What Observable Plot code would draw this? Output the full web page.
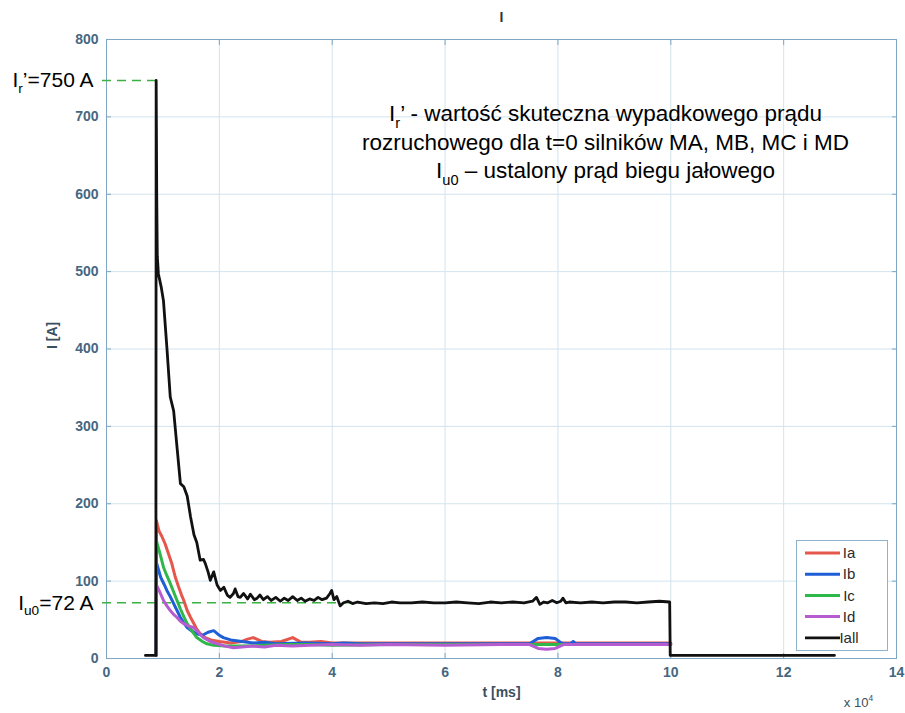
<!DOCTYPE html>
<html>
<head>
<meta charset="utf-8">
<script src="https://cdn.jsdelivr.net/npm/d3@7"></script>
<script src="https://cdn.jsdelivr.net/npm/@observablehq/plot@0.6"></script>
<style>
  body { margin: 0; background: #fff; }
</style>
</head>
<body>
<div id="chart"></div>
<script>
// ---- data ----
const seriesNames = ["Ia", "Ib", "Ic", "Id", "Iall"];
const seriesColors = ["#e5574b", "#1f5ed6", "#2fb84a", "#b65bd0", "#111111"];
const seriesWidths = [3, 3, 3, 3, 2.8];
const xTicks = [0, 2, 4, 6, 8, 10, 12, 14];
const yTicks = [0, 100, 200, 300, 400, 500, 600, 700, 800];

const iaPoints = [[0.88,4],[0.885,178],[0.93,165],[0.98,158],[1.04,148],[1.10,135],[1.16,122],[1.22,105],[1.28,92],[1.33,82],[1.37,75],[1.43,62],[1.49,53],[1.55,45],[1.60,38],[1.66,32],[1.75,27],[1.85,24],[2.0,22],[2.2,20],[2.4,22],[2.5,25],[2.6,27],[2.75,22],[2.9,21],[3.1,22],[3.3,27],[3.45,21],[3.6,21],[3.8,22],[4.0,20],[4.5,20],[5,20],[6,20],[7,20],[8,20],[9,20],[10,20]];
const ibPoints = [[0.88,4],[0.885,124],[0.96,105],[1.02,96],[1.07,88],[1.13,80],[1.19,71],[1.25,62],[1.31,53],[1.37,46],[1.43,40],[1.5,36],[1.6,32],[1.7,30],[1.8,34],[1.9,36],[2.0,30],[2.07,27],[2.2,24],[2.4,22],[2.6,20],[2.8,21],[3.0,19],[3.5,20],[4.0,19],[4.2,20],[4.5,19],[5,19],[6,19],[7,19],[7.5,19],[7.56,22],[7.65,26],[7.8,27],[7.95,26],[8.04,21],[8.1,19],[8.22,19],[8.27,22],[8.32,19],[9,19],[10,19]];
const icPoints = [[0.88,4],[0.885,152],[0.95,135],[1.01,118],[1.07,107],[1.13,97],[1.19,86],[1.25,75],[1.31,64],[1.37,54],[1.43,45],[1.5,37],[1.6,27],[1.7,22],[1.78,19],[1.9,17],[2.1,16],[2.4,16],[2.8,17],[3.2,18],[3.6,18],[4,17],[5,18],[6,18],[7,18],[8,18],[9,18],[10,18]];
const idPoints = [[0.88,4],[0.885,95],[0.95,85],[1.01,75],[1.07,68],[1.13,62],[1.19,57],[1.25,53],[1.31,48],[1.37,45],[1.45,42],[1.54,40],[1.6,36],[1.66,31],[1.72,27],[1.84,22],[1.96,19],[2.1,16],[2.25,14],[2.4,15],[2.6,16],[2.8,15],[3.0,17],[3.3,16],[3.6,17],[4,18],[4.5,17],[5,18],[6,17],[7,18],[7.5,18],[7.56,16],[7.65,13],[7.8,12],[7.95,13],[8.04,16],[8.1,18],[9,18],[10,18]];
const iallPoints = [[0.69,4],[0.875,4],[0.88,747],[0.89,600],[0.90,520],[0.92,497],[0.97,480],[1.01,462],[1.07,402],[1.13,338],[1.19,320],[1.25,273],[1.31,226],[1.37,222],[1.43,210],[1.49,183],[1.55,160],[1.60,150],[1.66,127],[1.72,128],[1.75,123],[1.80,112],[1.84,101],[1.90,112],[1.96,95],[2.02,88],[2.08,92],[2.14,82],[2.19,79],[2.25,84],[2.28,90],[2.33,80],[2.37,79],[2.43,84],[2.50,77],[2.55,83],[2.62,76],[2.67,78],[2.72,82],[2.78,76],[2.85,80],[2.92,75],[3.00,79],[3.08,74],[3.15,78],[3.22,75],[3.30,80],[3.38,75],[3.45,78],[3.52,74],[3.60,77],[3.68,75],[3.75,79],[3.82,76],[3.90,78],[3.96,84],[3.99,88],[4.03,76],[4.08,80],[4.14,68],[4.20,72],[4.28,74],[4.36,71],[4.45,73],[4.60,71],[4.75,72],[4.90,71],[5.05,73],[5.20,72],[5.40,72],[5.60,73],[5.80,72],[6.00,72],[6.20,73],[6.40,72],[6.60,71],[6.80,73],[7.00,72],[7.20,73],[7.40,72],[7.55,74],[7.62,79],[7.68,70],[7.75,73],[7.82,72],[7.90,75],[7.98,72],[8.05,74],[8.09,78],[8.14,72],[8.20,73],[8.40,72],[8.60,73],[8.80,72],[9.00,73],[9.20,73],[9.40,72],[9.60,73],[9.80,74],[9.98,73],[9.99,4],[12.90,4]];

const peakLabel = "I_{r}’=750 A";
const idleValue = 72;
const idleLabel = "I_{u0}=72 A";
const idleLineEnd = 5.0;
const noteLines = [
  "I_{r}’ - wartość skuteczna wypadkowego prądu",
  "rozruchowego dla t=0 silników MA, MB, MC i MD",
  "I_{u0} – ustalony prąd biegu jałowego"
];
const titleText = "I";
const xLabel = "t [ms]";
const xExponent = "x 10^{4}";
const yLabel = "I [A]";

// ---- build table ----
const allSeries = [iaPoints, ibPoints, icPoints, idPoints, iallPoints];
const seriesRows = allSeries.map((pts, k) => pts.map(([t, i]) => ({series: seriesNames[k], t, i})));
const peakPoint = iallPoints.reduce((a, b) => (b[1] > a[1] ? b : a));

const frameColor = "#7fa7c3";
const gridColor = "#d3e3ee";
const tickTextColor = "#46677f";
const dashGreen = "#3cb043";
const fontFamily = "'Liberation Sans', Arial, sans-serif";

const marks = [
  Plot.gridX(xTicks, {stroke: gridColor, strokeOpacity: 1}),
  Plot.gridY(yTicks, {stroke: gridColor, strokeOpacity: 1}),
  Plot.frame({stroke: frameColor}),
  Plot.axisX(xTicks, {tickSize: -5, tickPadding: 14, stroke: frameColor, fill: tickTextColor, fontSize: 14, fontWeight: "bold", label: null}),
  Plot.axisX(xTicks, {anchor: "top", tickSize: -5, tickFormat: () => "", stroke: frameColor, label: null}),
  Plot.axisY(yTicks, {tickSize: -5, tickPadding: 13, stroke: frameColor, fill: tickTextColor, fontSize: 14, fontWeight: "bold", label: null}),
  Plot.axisY(yTicks, {anchor: "right", tickSize: -5, tickFormat: () => "", stroke: frameColor, label: null}),
  Plot.ruleY([peakPoint[1]], {x1: 0, x2: peakPoint[0], insetLeft: -4, stroke: dashGreen, strokeWidth: 1.5, strokeDasharray: "9,6"}),
  Plot.ruleY([idleValue], {x1: 0, x2: idleLineEnd, insetLeft: -4, stroke: dashGreen, strokeWidth: 1.5, strokeDasharray: "9,6"}),
  ...seriesRows.map((r, k) => Plot.line(r, {x: "t", y: "i", stroke: "series", strokeWidth: seriesWidths[k]})),
  Plot.text([peakLabel], {frameAnchor: "left", y: peakPoint[1], dx: -13, textAnchor: "end", fontSize: 21, fill: "#000"}),
  Plot.text([idleLabel], {frameAnchor: "left", y: idleValue, dx: -13, textAnchor: "end", fontSize: 21, fill: "#000"}),
  ...noteLines.map((line, k) => Plot.text([line], {frameAnchor: "top", dx: 104, dy: 66 + k * 28.5, fontSize: 22.5, fill: "#000"})),
  Plot.text([titleText], {frameAnchor: "top", dy: -27, fontSize: 14, fontWeight: "bold", fill: "#333"}),
  Plot.text([xLabel], {frameAnchor: "bottom", dy: 38, fontSize: 14, fontWeight: "bold", fill: "#3a4f60"}),
  Plot.text([xExponent], {frameAnchor: "bottom-right", dx: -38, dy: 48, textAnchor: "middle", fontSize: 13, fill: "#3a4f60"}),
  Plot.text([yLabel], {frameAnchor: "left", dx: -54, rotate: -90, fontSize: 14, fontWeight: "bold", fill: "#3a4f60"})
];

const plot = Plot.plot({
  width: 905,
  height: 713,
  marginLeft: 106,
  marginRight: 9,
  marginTop: 39,
  marginBottom: 55,
  x: {domain: [0, 14]},
  y: {domain: [0, 800]},
  color: {domain: seriesNames, range: seriesColors},
  style: {fontFamily, background: "#fff"},
  marks
});
document.getElementById("chart").appendChild(plot);

const svg = d3.select(plot);

// rich text (sub/superscripts)
svg.selectAll("text").each(function () {
  const s = this.textContent;
  if (!/[_^]\{/.test(s)) return;
  const fs = parseFloat(getComputedStyle(this).fontSize) || 14;
  const parts = s.split(/(_\{[^}]*\}|\^\{[^}]*\})/).filter(p => p !== "");
  this.textContent = "";
  let shift = 0;
  for (const p of parts) {
    let txt = p, target = 0, small = false;
    if (p.startsWith("_{")) { txt = p.slice(2, -1); target = 0.28 * fs; small = true; }
    else if (p.startsWith("^{")) { txt = p.slice(2, -1); target = -0.45 * fs; small = true; }
    const ts = d3.select(this).append("tspan").text(txt).attr("dy", target - shift);
    if (small) ts.attr("font-size", "65%");
    shift = target;
  }
});

// legend
const lg = svg.append("g").attr("font-family", fontFamily);
lg.append("rect").attr("x", 796.5).attr("y", 540.5).attr("width", 91).attr("height", 110)
  .attr("fill", "#fff").attr("stroke", "#8fb3cc");
seriesNames.forEach((name, k) => {
  const yy = 553 + k * 21.2;
  lg.append("line").attr("x1", 805).attr("x2", 840).attr("y1", yy).attr("y2", yy)
    .attr("stroke", seriesColors[k]).attr("stroke-width", seriesWidths[k]);
  lg.append("text").attr("x", 849).attr("y", yy).attr("dy", "0.35em")
    .attr("font-size", 15).attr("fill", "#2a2a2a").text(name);
});
</script>
</body>
</html>
